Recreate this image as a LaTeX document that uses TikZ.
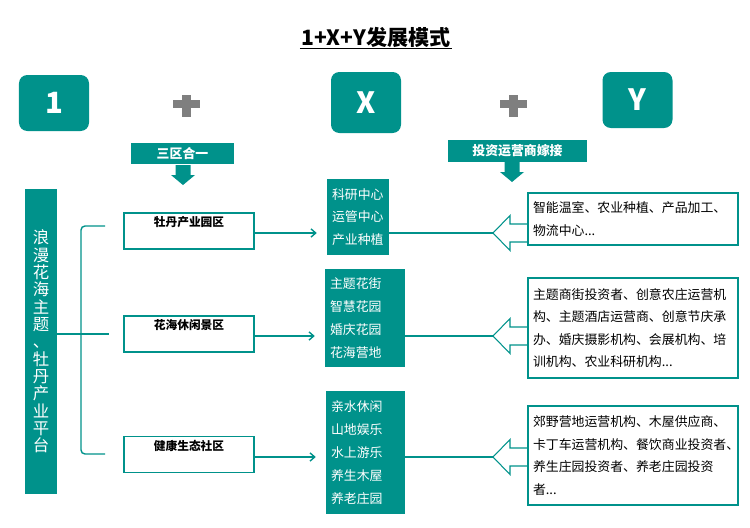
\documentclass[tikz,border=0pt]{standalone}
\usepackage{fontspec}
\setmainfont{Noto Sans CJK SC}
\usetikzlibrary{arrows.meta}
\definecolor{teal1}{RGB}{0,146,139}
\definecolor{plusgray}{RGB}{127,127,127}

\begin{document}
\begin{tikzpicture}[
    x=0.03cm, y=-0.03cm,
    >={Straight Barb[length=4pt, width=7pt]},
    bigbox/.style={fill=teal1, rounded corners=0.25cm, minimum width=2.1cm, text=white,
                   font=\bfseries\fontsize{25}{25}\selectfont},
    bandlbl/.style={fill=teal1, text=white, inner sep=0, font=\bfseries\fontsize{11}{11}\selectfont},
    zonebox/.style={draw=teal1, line width=1.2pt, fill=white, minimum width=3.9cm, minimum height=1.08cm},
    zonelbl/.style={anchor=north, inner sep=0.12cm, font=\bfseries\fontsize{10}{10}\selectfont},
    xbox/.style={fill=teal1, text=white, align=left, inner xsep=0.15cm, inner ysep=0,
                 font=\fontsize{11}{19.5}\selectfont},
    ybox/.style={draw=teal1, line width=1.8pt, fill=white, minimum width=6.3cm, text width=6cm,
                 inner xsep=0.15cm, inner ysep=0, align=left, font=\fontsize{11}{19.3}\selectfont},
    link/.style={teal1, line width=1.2pt},
    hollow/.style={draw=teal1, line width=0.9pt, fill=white},
]
  \useasboundingbox (0,0) rectangle (750,527);

  \node[font=\bfseries\fontsize{18}{18}\selectfont, inner sep=1pt] (title) at (376,37) {1+X+Y发展模式};
  \draw[line width=1.4pt] (title.south west) -- (title.south east);

  \node[bigbox, minimum height=1.68cm] (keyone) at (54,103) {1};
  \node[bigbox, minimum height=1.83cm] (keyx) at (366,102.5) {X};
  \node[bigbox, minimum height=1.68cm] (keyy) at (637.5,100) {Y};

  \foreach \c in {186.5, 513} {
    \fill[plusgray] (\c-13.5,100) rectangle (\c+13.5,108);
    \fill[plusgray] (\c-4.5,95) rectangle (\c+4.5,117);
  }

  \node[bandlbl, minimum width=3.09cm, minimum height=0.63cm] (merge) at (182.5,153.5) {三区合一};
  \node[bandlbl, minimum width=4.17cm, minimum height=0.66cm] (graft) at (517.5,151) {投资运营商嫁接};

  \foreach \x/\t in {183/165, 512/162}
    \fill[teal1] (\x-7.5,\t) -- (\x+7.5,\t) -- (\x+7.5,\t+10) -- (\x+12,\t+10)
      -- (\x,\t+20) -- (\x-12,\t+10) -- (\x-7.5,\t+10) -- cycle;

  \node[fill=teal1, text=white, minimum width=0.96cm, minimum height=9.15cm, inner sep=0,
        align=center, font=\fontsize{14}{14.8}\selectfont] (platform) at (41,341.5)
    {浪\\漫\\花\\海\\主\\题\\、\\牡\\丹\\产\\业\\平\\台};

  \node[zonebox, label={[zonelbl]north:牡丹产业园区}] (zone1) at (189,231) {};
  \node[zonebox, label={[zonelbl]north:花海休闲景区}] (zone2) at (189,334) {};
  \node[zonebox, label={[zonelbl]north:健康生态社区}] (zone3) at (189,454.5) {};

  \coordinate (brk) at (109,334);
  \draw[link] (platform.east |- brk) -- (brk);
  \draw[link, rounded corners=0.12cm] (105,226) -- (81,226) -- (81,454) -- (105,454);

  \node[xbox, text width=1.56cm, minimum height=2.28cm] (func1) at (358,217)
    {科研中心\\运管中心\\产业种植};
  \node[xbox, text width=2.1cm, minimum height=2.94cm] (func2) at (365,318)
    {主题花街\\智慧花园\\婚庆花园\\花海营地};
  \node[xbox, text width=2.07cm, minimum height=3.69cm] (func3) at (365.5,452.5)
    {亲水休闲\\山地娱乐\\水上游乐\\养生木屋\\养老庄园};

  \foreach \i/\y in {1/233, 2/336, 3/457} {
    \coordinate (tip\i) at (493,\y);
    \draw[hollow] (528,\y-9) -- (510,\y-9) -- (510,\y-17.5) -- (tip\i)
      -- (510,\y+17.5) -- (510,\y+9) -- (528,\y+9);
    \draw[link, ->, shorten >=0.3cm] (zone\i.east |- tip\i) -- (func\i.west |- tip\i);
    \draw[link] (func\i.east |- tip\i) -- (tip\i);
  }

  \node[ybox, minimum height=1.56cm] (invest1) at (633,219)
    {智能温室、农业种植、产品加工、\\物流中心...};
  \node[ybox, minimum height=3cm] (invest2) at (633,328)
    {主题商街投资者、创意农庄运营机\\构、主题酒店运营商、创意节庆承\\办、婚庆摄影机构、会展机构、培\\训机构、农业科研机构...};
  \node[ybox, minimum height=2.97cm] (invest3) at (633,455.5)
    {郊野营地运营机构、木屋供应商、\\卡丁车运营机构、餐饮商业投资者、\\养生庄园投资者、养老庄园投资\\者...};
\end{tikzpicture}
\end{document}
